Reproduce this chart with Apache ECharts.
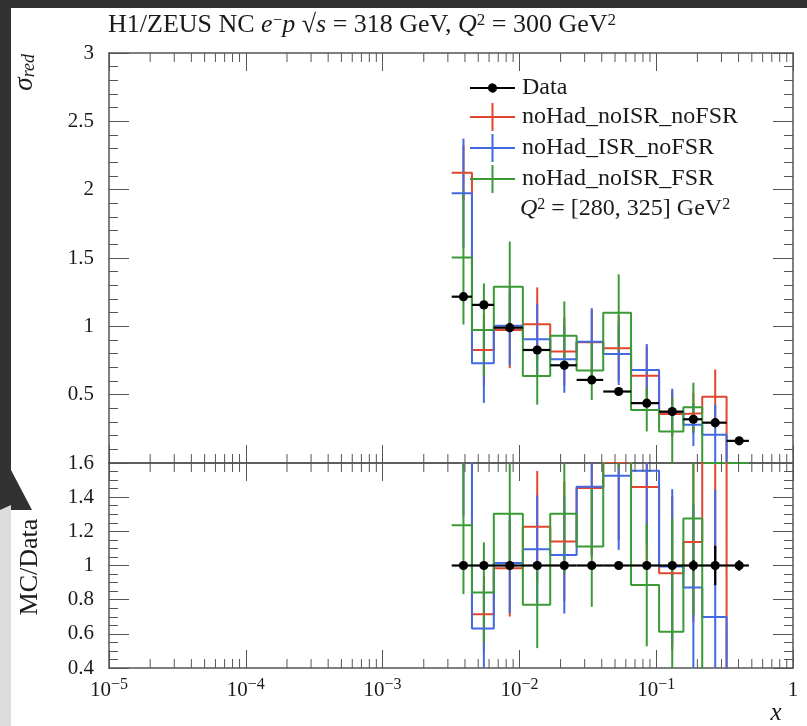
<!DOCTYPE html>
<html><head><meta charset="utf-8">
<script src="https://cdn.jsdelivr.net/npm/echarts@6/dist/echarts.min.js"></script>
<style>html,body{margin:0;padding:0;background:#fff}#c{width:807px;height:726px}</style>
</head><body><div id="c"></div>
<script>
// ---- data ----
const binEdges = [0.0032, 0.0045, 0.0065, 0.0106, 0.0168, 0.0262, 0.041, 0.0655, 0.105, 0.158, 0.217, 0.327, 0.476];
const dataX   = [0.0039, 0.0055, 0.0085, 0.0135, 0.0213, 0.0338, 0.0532, 0.0853, 0.131, 0.187, 0.270, 0.404];
const dataY   = [1.217, 1.157, 0.99, 0.827, 0.715, 0.608, 0.523, 0.438, 0.376, 0.320, 0.295, 0.162];
const dataErr = [0.02, 0.02, 0.015, 0.012, 0.01, 0.01, 0.008, 0.008, 0.008, 0.01, 0.034, 0.005];
const redY    = [2.124, 0.827, 0.974, 1.015, 0.815, 0.884, 0.840, 0.639, 0.359, 0.364, 0.484, 0];
const redErr  = [0.20, 0.26, 0.28, 0.27, 0.25, 0.24, 0.24, 0.21, 0.17, 0.15, 0.20, 0];
const blueY   = [1.974, 0.730, 1.005, 0.906, 0.759, 0.888, 0.798, 0.681, 0.374, 0.279, 0.206, 0];
const blueErr = [0.40, 0.29, 0.29, 0.26, 0.245, 0.245, 0.227, 0.19, 0.17, 0.155, 0.22, 0];
const greenY  = [1.503, 0.974, 1.290, 0.637, 0.932, 0.676, 1.100, 0.388, 0.230, 0.408, 0, 0];
const greenErr= [0.49, 0.34, 0.33, 0.21, 0.25, 0.215, 0.28, 0.157, 0.25, 0.18, 0, 0];
const seriesNames = ['noHad_noISR_noFSR', 'noHad_ISR_noFSR', 'noHad_noISR_FSR'];
const topYTicks = {min: 0, max: 3, interval: 0.5};
const ratioYTicks = {min: 0.4, max: 1.6, interval: 0.2};

const FONT = 'Liberation Serif';
const TXT = '#1a1a1a';
const FRAME = '#555';
const COLORS = ['#e0472e', '#4169e1', '#3a9a35'];

const minorX = [];
for (let d = -5; d < 0; d++) for (let k = 2; k <= 9; k++) minorX.push(k * Math.pow(10, d));

function histData(vals, ref) {
  const n = vals.length, out = [];
  for (let i = 0; i < n; i++) out.push([binEdges[i], ref ? vals[i] / ref[i] : vals[i]]);
  out.push([binEdges[n], ref ? vals[n - 1] / ref[n - 1] : vals[n - 1]]);
  return out;
}
function errData(vals, errs, ref) {
  const out = [];
  for (let i = 0; i < vals.length; i++) {
    if (!errs[i]) continue;
    const r = ref ? ref[i] : 1;
    out.push([dataX[i], vals[i] / r, errs[i] / r]);
  }
  return out;
}
function errRender(color) {
  return function (params, api) {
    const x = api.value(0), y = api.value(1), e = api.value(2);
    const p1 = api.coord([x, y - e]), p2 = api.coord([x, y + e]);
    return {type: 'line', shape: {x1: p1[0], y1: p1[1], x2: p2[0], y2: p2[1]}, style: {stroke: color, lineWidth: 2}};
  };
}
function dataRender(params, api) {
  const x = api.value(0), y = api.value(1), e = api.value(2), lo = api.value(3), hi = api.value(4);
  const a = api.coord([lo, y]), b = api.coord([hi, y]);
  const c = api.coord([x, y]), t = api.coord([x, y + e]), u = api.coord([x, y - e]);
  return {type: 'group', children: [
    {type: 'line', shape: {x1: a[0], y1: a[1], x2: b[0], y2: b[1]}, style: {stroke: '#000', lineWidth: 2.2}},
    {type: 'line', shape: {x1: t[0], y1: t[1], x2: u[0], y2: u[1]}, style: {stroke: '#000', lineWidth: 2.2}},
    {type: 'circle', shape: {cx: c[0], cy: c[1], r: 4.6}, style: {fill: '#000'}}
  ]};
}
function dataItems(ratio) {
  return dataX.map((x, i) => [x, ratio ? 1 : dataY[i], ratio ? dataErr[i] / dataY[i] : dataErr[i], binEdges[i], binEdges[i + 1]]);
}
function minorRender(params, api) {
  const cs = params.coordSys;
  const px = api.coord([api.value(0), api.value(1)])[0];
  return {type: 'group', children: [
    {type: 'line', shape: {x1: px, y1: cs.y, x2: px, y2: cs.y + 9}, style: {stroke: FRAME, lineWidth: 1}},
    {type: 'line', shape: {x1: px, y1: cs.y + cs.height, x2: px, y2: cs.y + cs.height - 9}, style: {stroke: FRAME, lineWidth: 1}}
  ]};
}

function xAxisDef(grid, pos, labels) {
  return {
    gridIndex: grid, type: 'log', logBase: 10, min: 1e-5, max: 1, position: pos,
    axisLine: {show: true, onZero: false, lineStyle: {color: FRAME, width: 1.5}},
    axisTick: {show: true, inside: true, length: 18, lineStyle: {color: FRAME, width: 1}},
    splitLine: {show: false},
    axisLabel: labels ? {
      show: true, margin: 9, color: TXT, fontFamily: FONT,
      formatter: function (v) {
        const p = Math.round(Math.log10(v));
        return p === 0 ? '{b|1}' : '{b|10}{s|−' + (-p) + '}';
      },
      rich: {
        b: {fontFamily: FONT, fontSize: 21, color: TXT, lineHeight: 26},
        s: {fontFamily: FONT, fontSize: 16, color: TXT, lineHeight: 16, verticalAlign: 'top'}
      }
    } : {show: false}
  };
}
function yAxisDef(grid, pos, t, split, labels) {
  return {
    gridIndex: grid, type: 'value', min: t.min, max: t.max, interval: t.interval, position: pos,
    axisLine: {show: true, onZero: false, lineStyle: {color: FRAME, width: 1.5}},
    axisTick: {show: true, inside: true, length: 20, lineStyle: {color: FRAME, width: 1}},
    minorTick: {show: true, splitNumber: split, length: 9, lineStyle: {color: FRAME, width: 1}},
    splitLine: {show: false}, minorSplitLine: {show: false},
    axisLabel: labels ? {
      show: true, margin: 15, color: TXT, fontFamily: FONT, fontSize: 21,
      formatter: function (v) { return (grid === 0 && v === 0) ? '' : String(+v.toFixed(2)); }
    } : {show: false}
  };
}

const series = [];
const mcY = [redY, blueY, greenY], mcE = [redErr, blueErr, greenErr];
for (let g = 0; g < 2; g++) {
  for (let k = 0; k < 3; k++) {
    series.push({
      name: seriesNames[k], type: 'line', xAxisIndex: g * 2, yAxisIndex: g * 2,
      data: histData(mcY[k], g ? dataY : null), step: 'end', symbol: 'none', clip: true,
      itemStyle: {color: COLORS[k]}, lineStyle: {color: COLORS[k], width: 2}, silent: true
    });
    series.push({
      name: seriesNames[k], type: 'custom', xAxisIndex: g * 2, yAxisIndex: g * 2, clip: true,
      data: errData(mcY[k], mcE[k], g ? dataY : null), renderItem: errRender(COLORS[k]),
      itemStyle: {color: COLORS[k]}, silent: true
    });
  }
  series.push({
    name: 'Data', type: 'custom', xAxisIndex: g * 2, yAxisIndex: g * 2, clip: true,
    data: dataItems(g === 1), renderItem: dataRender, itemStyle: {color: '#000'}, silent: true, z: 5
  });
  series.push({
    name: 'minor' + g, type: 'custom', xAxisIndex: g * 2, yAxisIndex: g * 2, clip: false,
    data: minorX.map(v => [v, 1]), renderItem: minorRender, silent: true, z: 6
  });
}

const crossIcon = 'path://M0,13 L45,13 L45,15 L0,15 Z M21.5,0 L23.5,0 L23.5,28 L21.5,28 Z';
const dataIcon = 'path://M0,3.5 L18,3.5 A4.6,4.6 0 0 1 27,3.5 L45,3.5 L45,5.5 L27,5.5 A4.6,4.6 0 0 1 18,5.5 L0,5.5 Z';

const option = {
  animation: false,
  backgroundColor: '#fff',
  grid: [
    {left: 109, top: 53, width: 684, height: 410},
    {left: 109, top: 463, width: 684, height: 205}
  ],
  xAxis: [xAxisDef(0, 'bottom', false), xAxisDef(0, 'top', false), xAxisDef(1, 'bottom', true), xAxisDef(1, 'top', false)],
  yAxis: [yAxisDef(0, 'left', topYTicks, 5, true), yAxisDef(0, 'right', topYTicks, 5, false),
          yAxisDef(1, 'left', ratioYTicks, 4, true), yAxisDef(1, 'right', ratioYTicks, 4, false)],
  legend: {
    orient: 'vertical', left: 465, top: 71, itemWidth: 45, itemHeight: 28, itemGap: 3,
    selectedMode: false,
    textStyle: {fontFamily: FONT, fontSize: 24, color: TXT, padding: [0, 0, 0, 2]},
    data: [{name: 'Data', icon: dataIcon}].concat(seriesNames.map(n => ({name: n, icon: crossIcon})))
  },
  graphic: [
    {type: 'polygon', silent: true, z: -10, shape: {points: [[0, 0], [807, 0], [807, 8], [11, 8], [11, 470], [32, 510], [0, 510]]}, style: {fill: '#323232'}},
    {type: 'polygon', silent: true, z: -10, shape: {points: [[0, 510], [11, 505], [11, 726], [0, 726]]}, style: {fill: '#dcdcdc'}},
    {type: 'text', x: 108, y: 25, silent: true, style: {
      text: 'H1/ZEUS NC {i|e}{sup|−}{i|p} √{i|s} = 318 GeV, {i|Q}{sup|2} = 300 GeV{sup|2}',
      fontFamily: FONT, fontSize: 26, fill: TXT, textVerticalAlign: 'middle',
      rich: {
        i: {fontFamily: FONT, fontSize: 26, fontStyle: 'italic', fill: TXT},
        sup: {fontFamily: FONT, fontSize: 17, fill: TXT, lineHeight: 15, verticalAlign: 'top'}
      }
    }},
    {type: 'text', x: 520, y: 209, silent: true, style: {
      text: '{i|Q}{sup|2} = [280, 325] GeV{sup|2}',
      fontFamily: FONT, fontSize: 24, fill: TXT, textVerticalAlign: 'middle',
      rich: {
        i: {fontFamily: FONT, fontSize: 24, fontStyle: 'italic', fill: TXT},
        sup: {fontFamily: FONT, fontSize: 16, fill: TXT, lineHeight: 15, verticalAlign: 'top'}
      }
    }},
    {type: 'text', x: 25, y: 54, rotation: Math.PI / 2, silent: true, style: {
      text: '{i|σ}{sub|red}', textAlign: 'right', textVerticalAlign: 'middle', fill: TXT,
      rich: {
        i: {fontFamily: FONT, fontSize: 27, fontStyle: 'italic', fill: TXT},
        sub: {fontFamily: FONT, fontSize: 18, fontStyle: 'italic', fill: TXT, lineHeight: 16, verticalAlign: 'bottom'}
      }
    }},
    {type: 'text', x: 30, y: 567, rotation: Math.PI / 2, silent: true, style: {
      text: 'MC/Data', textAlign: 'center', textVerticalAlign: 'middle',
      fontFamily: FONT, fontSize: 26, fill: TXT
    }},
    {type: 'text', x: 776, y: 713, silent: true, style: {
      text: 'x', textAlign: 'center', textVerticalAlign: 'middle',
      fontFamily: FONT, fontSize: 25, fontStyle: 'italic', fill: TXT
    }}
  ],
  series: series
};
const chart = echarts.init(document.getElementById('c'));
chart.setOption(option);
</script>
</body></html>
